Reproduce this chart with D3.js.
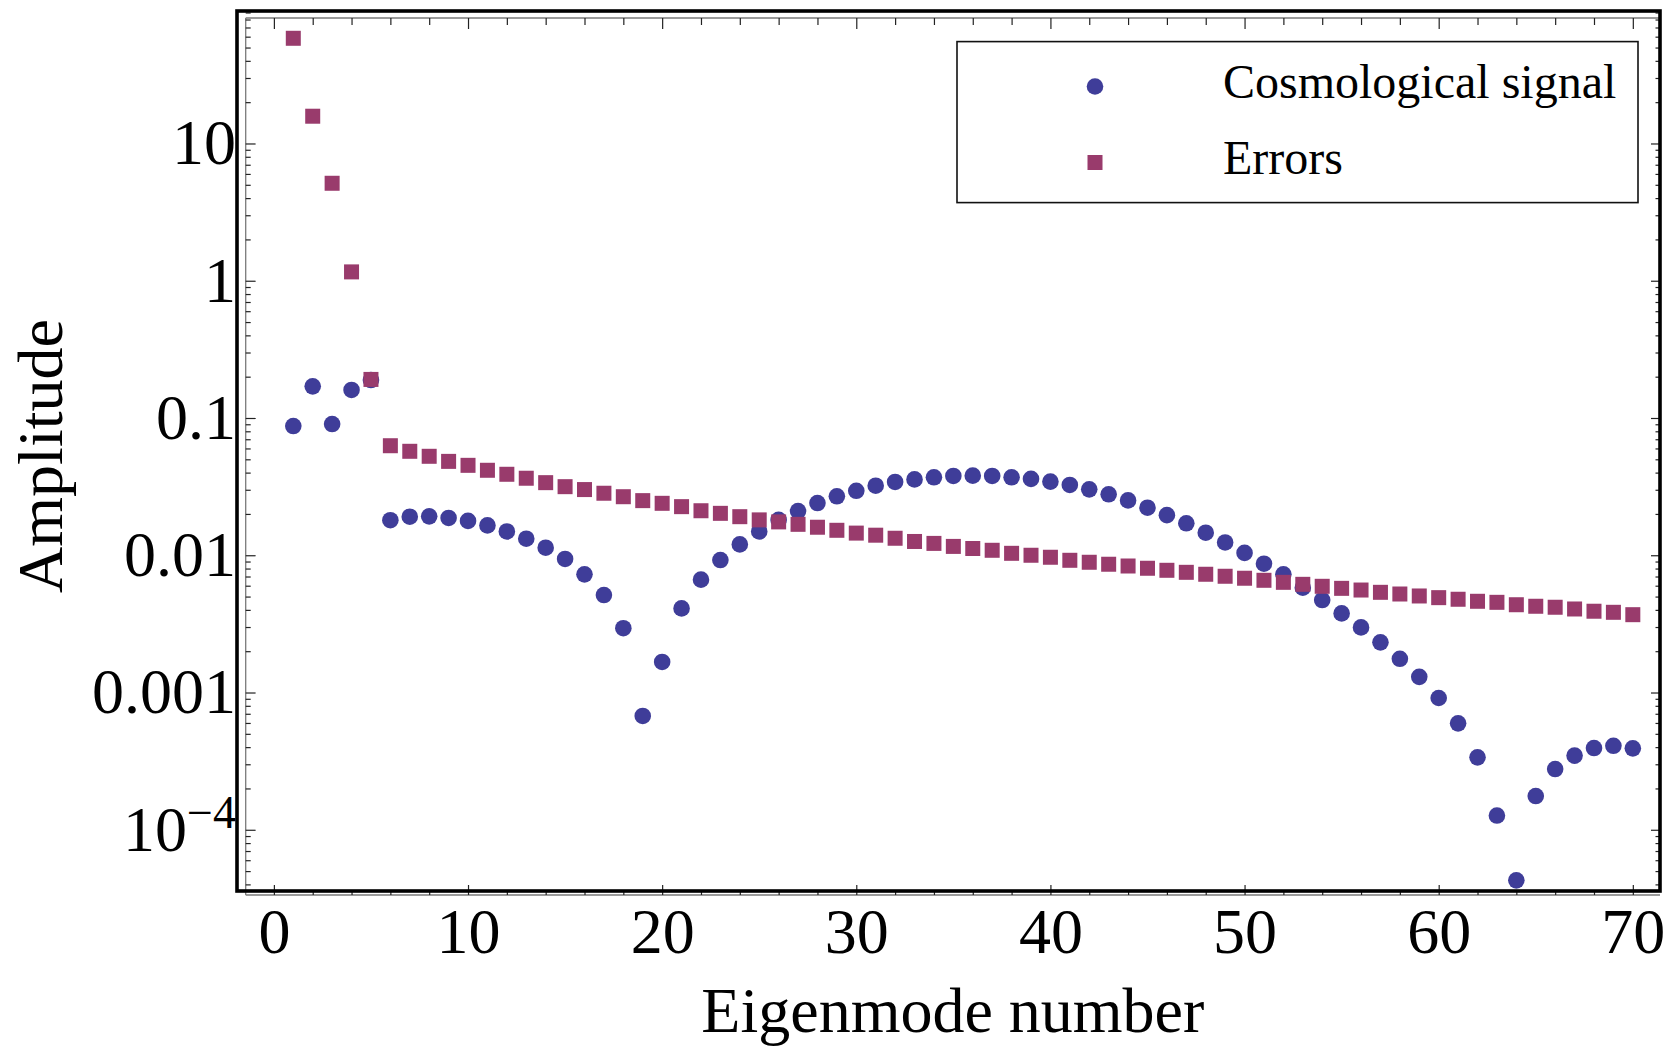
<!DOCTYPE html>
<html>
<head>
<meta charset="utf-8">
<script src="https://cdn.jsdelivr.net/npm/d3@7"></script>
<style>
  html, body { margin: 0; padding: 0; background: #fff; }
  svg { display: block; }
</style>
</head>
<body>
<svg id="chart" width="1673" height="1046"></svg>
<script>
// Eigenmode numbers
const modes = [1,2,3,4,5,6,7,8,9,10,11,12,13,14,15,16,17,18,19,20,
  21,22,23,24,25,26,27,28,29,30,31,32,33,34,35,36,37,38,39,40,
  41,42,43,44,45,46,47,48,49,50,51,52,53,54,55,56,57,58,59,60,
  61,62,63,64,65,66,67,68,69,70];

// Amplitude of the cosmological signal projected on each eigenmode
const signal = [0.0874, 0.170, 0.0904, 0.160, 0.189,
  0.0180, 0.0191, 0.0192, 0.0187, 0.0178, 0.0165, 0.0149, 0.0132, 0.01135, 0.0094,
  0.00726, 0.00513, 0.00294, 0.000675, 0.00167, 0.0041, 0.00664, 0.00923, 0.0120, 0.0149,
  0.0181, 0.0210, 0.0240, 0.0269, 0.0295, 0.0321, 0.0342, 0.0357, 0.0370, 0.0378,
  0.0380, 0.0378, 0.0370, 0.0360, 0.0344, 0.0325, 0.0302, 0.0278, 0.0251, 0.0222,
  0.0196, 0.0171, 0.0146, 0.0124, 0.0104, 0.00868,
  0.00726, 0.00580, 0.00472, 0.00377, 0.00298, 0.00232, 0.00176, 0.00130, 0.000912, 0.000596,
  0.000337, 0.000127, 0.0000428, 0.000176, 0.000277, 0.000347, 0.000394, 0.000409, 0.000392];

// Error amplitude per eigenmode
const errors = [58.4, 15.8, 5.13, 1.16, 0.191,
  0.0628, 0.0572, 0.0526, 0.0483, 0.0452, 0.0416, 0.0389, 0.0364, 0.0338, 0.0316,
  0.0301, 0.0283, 0.0267, 0.0250, 0.0239, 0.0226, 0.0211, 0.0202, 0.0191, 0.0181,
  0.0175, 0.0168, 0.0160, 0.0152, 0.0145, 0.0140, 0.0133, 0.0126, 0.0122, 0.0116,
  0.0112, 0.01087, 0.01033, 0.0100, 0.00967, 0.00919, 0.00889, 0.00860, 0.00835, 0.00804,
  0.00777, 0.00751, 0.00727, 0.00703, 0.00680, 0.00657,
  0.00635, 0.00614, 0.00594, 0.00574, 0.00558, 0.00537, 0.00522, 0.00505, 0.00491, 0.00478,
  0.00462, 0.00454, 0.00436, 0.00425, 0.00418, 0.00406, 0.00391, 0.00384, 0.00369];

const xMajorTicks = [0, 10, 20, 30, 40, 50, 60, 70];
const xTickLabels = ["0", "10", "20", "30", "40", "50", "60", "70"];
const yMajorTicks = [10, 1, 0.1, 0.01, 0.001, 0.0001];
const yTickLabels = ["10", "1", "0.1", "0.01", "0.001", "10^-4"];
const legendLabels = ["Cosmological signal", "Errors"];

const FONT = "'Liberation Serif', 'Times New Roman', serif";
const BLUE = "#3f3d99";
const PURPLE = "#993b6c";

const svg = d3.select("#chart");

// Frame box (thick outer border)
const frame = { left: 237, top: 11, right: 1660, bottom: 891 };

const x = d3.scaleLinear().domain([-1.9, 71.4]).range([frame.left, frame.right]);
const y = d3.scaleLog().domain([3.58e-5, 92.3]).range([frame.bottom, frame.top]);

// Minor tick values
const xMinor = d3.range(0, 71, 2).filter(v => v % 10 !== 0);
const yMinor = y.ticks().filter(v => {
  const l = Math.log10(v);
  return Math.abs(l - Math.round(l)) > 1e-6;
});

// Inner tick frame offsets
const inner = { left: frame.left + 8.7, top: frame.top + 7, bottom: frame.bottom + 4 };

const frameG = svg.append("g");

// thin inner frame lines
frameG.append("line")
  .attr("x1", inner.left).attr("x2", inner.left)
  .attr("y1", inner.top).attr("y2", inner.bottom)
  .attr("stroke", "#7a7a7a").attr("stroke-width", 1.3);
frameG.append("line")
  .attr("x1", inner.left).attr("x2", frame.right)
  .attr("y1", inner.top).attr("y2", inner.top)
  .attr("stroke", "#7a7a7a").attr("stroke-width", 1.3);
frameG.append("line")
  .attr("x1", inner.left).attr("x2", frame.right)
  .attr("y1", inner.bottom).attr("y2", inner.bottom)
  .attr("stroke", "#7a7a7a").attr("stroke-width", 1.3);

function tickAxis(axisFn, scale, values, size, transform) {
  const g = frameG.append("g")
    .attr("transform", transform)
    .call(axisFn(scale).tickValues(values).tickSize(size).tickFormat(""));
  g.select(".domain").remove();
  g.selectAll(".tick line").attr("stroke", "#222").attr("stroke-width", 1.2);
  return g;
}

// left ticks (pointing inward)
tickAxis(d3.axisRight, y, yMajorTicks, 10, `translate(${inner.left},0)`);
tickAxis(d3.axisRight, y, yMinor, 5, `translate(${inner.left},0)`);
// right ticks
tickAxis(d3.axisLeft, y, yMajorTicks, 9, `translate(${frame.right},0)`);
tickAxis(d3.axisLeft, y, yMinor, 4.5, `translate(${frame.right},0)`);
// top ticks
tickAxis(d3.axisBottom, x, xMajorTicks, 11, `translate(0,${inner.top})`);
tickAxis(d3.axisBottom, x, xMinor, 7, `translate(0,${inner.top})`);
// bottom ticks
tickAxis(d3.axisTop, x, xMajorTicks, 10, `translate(0,${inner.bottom})`);
tickAxis(d3.axisTop, x, xMinor, 5, `translate(0,${inner.bottom})`);

// Tick labels
const xLab = svg.append("g")
  .attr("transform", `translate(0,${frame.bottom})`)
  .call(d3.axisBottom(x).tickValues(xMajorTicks).tickSize(0).tickPadding(17)
    .tickFormat((d, i) => xTickLabels[i]));
xLab.select(".domain").remove();
xLab.selectAll("text").attr("font-family", FONT).attr("font-size", 64).attr("fill", "#000");

const yLab = svg.append("g")
  .attr("transform", `translate(${frame.left},0)`)
  .call(d3.axisLeft(y).tickValues(yMajorTicks).tickSize(0).tickPadding(1)
    .tickFormat((d, i) => yTickLabels[i]));
yLab.select(".domain").remove();
yLab.selectAll("text").attr("font-family", FONT).attr("font-size", 64).attr("fill", "#000")
  .each(function(d, i) {
    const lab = yTickLabels[i];
    if (lab.includes("^")) {
      const [base, exp] = lab.split("^");
      const t = d3.select(this).text(null);
      t.append("tspan").text(base);
      t.append("tspan").attr("font-size", 46).attr("dy", "-0.5em")
        .text(exp.replace("-", "\u2212"));
    }
  });

// Axis titles
svg.append("text")
  .attr("x", (inner.left + frame.right) / 2).attr("y", 1032)
  .attr("text-anchor", "middle")
  .attr("font-family", FONT).attr("font-size", 64)
  .text("Eigenmode number");

svg.append("text")
  .attr("transform", `translate(62,${(frame.top + frame.bottom) / 2 + 5}) rotate(-90)`)
  .attr("text-anchor", "middle")
  .attr("font-family", FONT).attr("font-size", 64)
  .text("Amplitude");

// Data marks
const plot = svg.append("g");
const R = 8.3, S = 15;

plot.selectAll("circle.signal")
  .data(modes.map((m, i) => ({ m, v: signal[i] })))
  .join("circle")
  .attr("class", "signal")
  .attr("cx", d => x(d.m)).attr("cy", d => y(d.v))
  .attr("r", R).attr("fill", BLUE);

plot.selectAll("rect.err")
  .data(modes.map((m, i) => ({ m, v: errors[i] })))
  .join("rect")
  .attr("class", "err")
  .attr("x", d => x(d.m) - S / 2).attr("y", d => y(d.v) - S / 2)
  .attr("width", S).attr("height", S).attr("fill", PURPLE);

// Thick outer frame
svg.append("rect")
  .attr("x", frame.left).attr("y", frame.top)
  .attr("width", frame.right - frame.left).attr("height", frame.bottom - frame.top)
  .attr("fill", "none").attr("stroke", "#000").attr("stroke-width", 3.6);

// Legend
const legend = svg.append("g");
legend.append("rect")
  .attr("x", 957).attr("y", 41.6).attr("width", 681).attr("height", 161)
  .attr("fill", "#fff").attr("stroke", "#111").attr("stroke-width", 1.6);

const rows = legend.selectAll("g.row").data(legendLabels).join("g")
  .attr("class", "row")
  .attr("transform", (d, i) => `translate(0,${98 + i * 76})`);

rows.each(function(d, i) {
  const g = d3.select(this);
  if (i === 0) {
    g.append("circle").attr("cx", 1095).attr("cy", -11.5).attr("r", R).attr("fill", BLUE);
  } else {
    g.append("rect").attr("x", 1095 - S / 2).attr("y", -11.5 - S / 2)
      .attr("width", S).attr("height", S).attr("fill", PURPLE);
  }
  g.append("text").attr("x", 1223).attr("y", 0)
    .attr("font-family", FONT).attr("font-size", 48).text(d);
});
</script>
</body>
</html>
